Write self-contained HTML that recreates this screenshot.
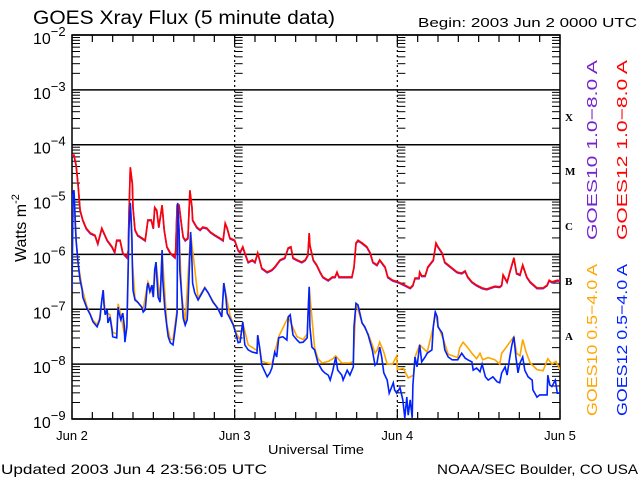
<!DOCTYPE html>
<html><head><meta charset="utf-8"><style>
html,body{margin:0;padding:0;background:#fff;}
svg{display:block;font-family:"Liberation Sans",sans-serif;}
</style></head><body>
<svg id="chart" width="640" height="480" viewBox="0 0 640 480">
<g id="axes"></g>
<g id="series" clip-path="url(#clip)"></g>
<defs><clipPath id="clip"><rect x="72" y="35" width="488" height="384"/></clipPath></defs>
<text x="33" y="24" font-size="19" textLength="302" lengthAdjust="spacingAndGlyphs">GOES Xray Flux (5 minute data)</text>
<text x="418" y="27" font-size="13" textLength="219" lengthAdjust="spacingAndGlyphs">Begin:  2003 Jun 2 0000 UTC</text>
<text transform="translate(26,262) rotate(-90)" font-size="16">Watts m<tspan dy="-7" font-size="11">-2</tspan></text>
<text x="316" y="454" font-size="13" text-anchor="middle" textLength="96" lengthAdjust="spacingAndGlyphs">Universal Time</text>
<text x="1" y="474" font-size="14" textLength="266" lengthAdjust="spacingAndGlyphs">Updated 2003 Jun  4 23:56:05 UTC</text>
<text x="437" y="474" font-size="14" textLength="201" lengthAdjust="spacingAndGlyphs">NOAA/SEC Boulder, CO USA</text>
<g font-family="Liberation Serif,serif" font-weight="bold" font-size="11">
<text x="565" y="121">X</text>
<text x="565" y="175">M</text>
<text x="565" y="230">C</text>
<text x="565" y="285">B</text>
<text x="565" y="340">A</text>
</g>
<g font-size="15">
<text transform="translate(597,240) rotate(-90)" fill="#7722cc" textLength="180" lengthAdjust="spacingAndGlyphs">GOES10 1.0−8.0 A</text>
<text transform="translate(627,240) rotate(-90)" fill="#ff0000" textLength="180" lengthAdjust="spacingAndGlyphs">GOES12 1.0−8.0 A</text>
<text transform="translate(597,416) rotate(-90)" fill="#ffa500" textLength="152" lengthAdjust="spacingAndGlyphs">GOES10 0.5−4.0 A</text>
<text transform="translate(627,416) rotate(-90)" fill="#0022ff" textLength="152" lengthAdjust="spacingAndGlyphs">GOES12 0.5−4.0 A</text>
</g>
</svg>
<script>
const dayLabels=["Jun 2","Jun 3","Jun 4","Jun 5"];
const decades=[-2,-3,-4,-5,-6,-7,-8,-9];
const redHours=[0,0.3,0.6,0.9,1.2,1.6,2.1,2.7,3.4,3.8,4.4,5.2,5.9,6.3,6.6,7.1,7.5,8.1,8.3,8.4,8.6,8.9,9.0,9.3,9.7,10.8,11.2,11.7,12.0,12.2,12.5,12.8,13.3,13.6,14.0,14.5,15.2,15.3,15.5,15.8,16.2,16.4,16.7,17.1,17.4,17.7,17.8,18.4,18.9,19.3,19.9,20.4,21.1,21.8,22.3,22.6,22.9,23.3,24.0,24.5,24.8,25.2,25.5,26.0,26.6,27.0,27.4,27.7,28.0,28.8,29.5,29.9,30.7,31.4,31.9,32.3,32.6,33.2,33.9,34.4,34.8,35.0,35.1,35.6,36.1,36.6,37.0,37.8,38.4,38.8,39.1,39.4,40.3,41.3,41.6,41.9,42.2,42.8,43.5,44.0,44.4,45.0,45.4,46.2,46.6,47.3,48.1,49.1,49.9,50.3,50.6,51.2,51.3,51.6,52.1,52.5,53.3,53.7,54.0,54.6,55.0,55.5,56.1,56.8,57.5,58.0,58.4,59.0,59.7,60.5,61.2,62.4,63.1,63.4,63.6,64.2,64.6,65.2,65.6,66.1,66.5,67.1,67.6,68.6,69.5,70.1,70.4,70.8,71.6,72];
const redLog=[-4.19,-4.19,-4.37,-4.73,-5.19,-5.37,-5.52,-5.61,-5.65,-5.80,-5.52,-5.74,-5.86,-5.96,-5.74,-5.74,-5.97,-6.05,-5.92,-5.32,-4.41,-4.70,-5.14,-5.55,-5.65,-5.74,-5.37,-5.37,-5.52,-5.14,-5.19,-5.50,-5.10,-5.55,-5.86,-5.97,-6.05,-5.92,-5.10,-5.10,-5.50,-5.68,-5.74,-5.70,-4.83,-5.14,-5.37,-5.50,-5.55,-5.50,-5.52,-5.59,-5.65,-5.70,-5.74,-5.43,-5.52,-5.70,-5.74,-5.92,-5.96,-5.86,-5.97,-6.14,-6.10,-6.14,-5.97,-6.10,-6.25,-6.32,-6.28,-6.23,-6.10,-6.06,-5.88,-5.86,-6.06,-6.10,-6.14,-6.10,-6.01,-5.61,-5.83,-6.10,-6.19,-6.32,-6.41,-6.47,-6.41,-6.41,-6.32,-6.41,-6.41,-6.41,-6.23,-5.79,-5.74,-5.79,-5.86,-5.97,-6.14,-6.19,-6.10,-6.23,-6.41,-6.47,-6.50,-6.56,-6.61,-6.56,-6.43,-6.43,-6.32,-6.39,-6.39,-6.23,-6.10,-5.79,-5.86,-5.97,-6.14,-6.19,-6.25,-6.32,-6.34,-6.30,-6.41,-6.50,-6.56,-6.61,-6.63,-6.58,-6.59,-6.56,-6.37,-6.50,-6.32,-6.06,-6.34,-6.37,-6.19,-6.41,-6.50,-6.61,-6.61,-6.56,-6.47,-6.50,-6.47,-6.48];
const blueHours=[0,0.15,0.3,0.6,0.9,1.2,1.5,1.6,2.2,2.7,3.1,3.7,4.1,4.4,4.6,4.7,4.9,5.2,5.3,5.6,5.9,6.0,6.6,6.8,6.9,7.2,7.5,7.7,7.8,8.1,8.3,8.4,8.6,8.7,8.85,8.9,9.0,9.3,9.7,10.3,10.5,10.8,11.1,11.2,11.5,11.8,12.0,12.2,12.4,12.5,12.7,13.0,13.3,13.4,13.7,14.0,14.2,14.5,14.9,15.2,15.5,15.55,15.6,15.8,15.9,16.2,16.4,16.7,17.0,17.1,17.3,17.5,17.7,17.8,18.1,18.6,19.2,19.6,20.1,20.8,21.5,22.1,22.4,22.7,22.9,23.3,23.8,24.3,24.5,24.8,25.2,25.5,26.0,26.6,27.3,27.4,27.7,28.0,28.8,29.2,29.5,29.9,30.2,30.5,31.1,31.7,31.9,32.2,32.5,32.6,33.2,33.6,34.1,34.7,34.8,35.0,35.1,35.4,35.8,36.3,36.9,37.3,37.8,38.1,38.5,38.9,39.2,39.8,40.0,40.6,41.0,41.5,41.6,41.9,42.2,42.8,43.2,43.7,44.3,44.7,45.0,45.4,45.7,46.0,46.5,46.8,47.4,47.6,47.9,48.4,48.8,49.1,49.4,49.6,49.9,50.2,50.3,50.6,50.9,51.3,51.6,52.1,52.4,53.1,53.3,53.6,53.9,54.0,54.6,54.8,55.0,55.5,56.1,56.9,57.5,58.0,58.4,59.0,59.2,59.7,60.2,60.5,61.0,61.4,62.1,62.7,63.1,63.4,63.9,64.2,64.6,64.9,65.2,65.5,65.8,66.1,66.5,66.8,67.3,67.9,68.0,68.6,69.0,70.1,70.2,70.5,70.8,71.3,71.6,72];
const blueLog=[-6.65,-4.88,-4.83,-5.74,-6.16,-6.47,-6.65,-6.78,-6.98,-7.10,-7.23,-7.32,-7.19,-6.83,-6.65,-6.89,-7.10,-7.01,-7.25,-7.14,-7.38,-7.50,-7.52,-6.96,-7.05,-7.19,-7.07,-7.29,-7.60,-7.32,-6.16,-5.55,-5.06,-5.28,-5.74,-6.16,-6.65,-6.83,-6.87,-6.96,-7.05,-7.01,-6.59,-6.52,-6.68,-6.56,-6.78,-6.28,-6.14,-6.37,-6.78,-6.87,-5.92,-6.47,-7.01,-7.32,-7.50,-7.61,-7.65,-7.38,-7.07,-5.97,-5.06,-5.55,-6.28,-6.78,-7.16,-7.29,-7.19,-6.96,-6.28,-5.59,-6.16,-6.52,-6.70,-6.83,-6.70,-6.61,-6.70,-6.87,-6.98,-7.14,-6.52,-6.78,-7.07,-7.16,-7.29,-7.50,-7.61,-7.60,-7.23,-7.65,-7.74,-7.78,-7.80,-7.47,-7.71,-8.02,-8.23,-8.16,-8.07,-7.78,-7.87,-7.52,-7.50,-7.56,-7.14,-7.10,-7.38,-7.47,-7.56,-7.61,-7.60,-7.52,-7.14,-6.59,-7.32,-7.69,-7.74,-7.98,-8.11,-8.16,-8.20,-8.29,-8.11,-7.87,-8.11,-8.20,-8.29,-8.11,-8.20,-8.05,-7.32,-6.89,-6.92,-7.25,-7.32,-7.47,-7.74,-8.02,-7.98,-7.69,-7.87,-8.16,-8.29,-8.53,-8.34,-8.47,-8.53,-8.43,-8.65,-8.98,-8.60,-8.93,-8.65,-8.98,-8.38,-7.87,-8.05,-7.65,-7.96,-7.87,-7.80,-7.74,-7.32,-7.05,-7.14,-7.32,-7.43,-7.56,-7.74,-7.87,-7.92,-7.92,-7.80,-7.89,-7.92,-7.96,-8.11,-8.07,-8.14,-8.00,-8.23,-8.29,-8.23,-8.32,-8.34,-8.16,-8.05,-8.20,-7.87,-7.65,-7.50,-7.87,-8.16,-7.98,-7.87,-8.11,-8.23,-8.29,-8.47,-8.60,-8.56,-8.56,-8.20,-8.38,-8.41,-8.29,-8.53,-8.53];
const orangeHours=[0,0.15,0.6,0.9,1.5,2.2,3.1,3.7,4.1,4.6,4.9,5.6,6.0,6.6,6.8,7.2,7.8,8.1,8.4,8.6,8.9,9.3,10.5,11.2,12.0,12.4,13.0,13.3,14.0,14.5,14.9,15.5,15.6,16.2,16.7,17.5,18.6,19.6,20.8,22.1,22.4,23.3,24.3,24.8,25.2,26.0,27.3,27.4,28.0,28.8,29.5,30.5,31.9,33.2,34.1,34.7,35.0,35.8,36.3,36.9,37.8,38.5,38.9,39.8,41.0,41.5,41.9,42.8,43.7,44.3,44.7,45.0,45.4,46.0,46.5,47.3,47.9,48.0,48.9,49.6,50.4,50.6,51.3,52.4,53.3,53.6,54.0,54.8,55.5,56.9,57.2,57.7,58.4,59.0,59.7,60.2,60.6,61.4,62.4,63.1,63.4,63.9,64.6,65.2,65.6,66.1,66.5,67.0,67.6,68.6,69.5,70.2,70.8,71.4,72];
const orangeLog=[-6.6,-4.9,-5.74,-6.16,-6.62,-6.95,-7.2,-7.28,-7.15,-6.65,-7.05,-7.1,-7.42,-7.45,-6.9,-7.1,-7.5,-7.25,-5.55,-5.06,-6.1,-6.8,-7.0,-6.5,-6.75,-6.14,-6.85,-5.95,-7.28,-7.55,-7.55,-7.0,-5.06,-6.75,-7.25,-5.6,-6.8,-6.6,-6.85,-7.1,-6.52,-7.1,-7.45,-7.55,-7.25,-7.65,-7.75,-7.47,-7.95,-7.98,-8.0,-7.5,-7.14,-7.5,-7.55,-7.45,-6.6,-7.7,-7.9,-7.98,-7.95,-7.9,-7.85,-7.98,-7.98,-7.95,-6.89,-7.25,-7.45,-7.65,-7.8,-7.75,-7.6,-7.78,-8.0,-8.0,-7.85,-8.1,-8.08,-8.25,-8.2,-7.87,-7.65,-7.78,-7.32,-7.05,-7.3,-7.55,-7.82,-7.88,-7.7,-7.6,-7.7,-7.8,-7.9,-7.8,-7.92,-7.88,-7.92,-8.0,-7.8,-7.72,-7.6,-7.5,-7.8,-7.85,-7.55,-7.78,-7.98,-8.1,-8.12,-7.9,-8.0,-7.95,-8.1];

const NS="http://www.w3.org/2000/svg";
const X0=72,X1=560,Y0=35,Y1=419;
function xs(h){return X0+h/72*(X1-X0);}
function ys(l){return Y0+(-2-l)/7*(Y1-Y0);}
function mk(tag,attrs,parent){const e=document.createElementNS(NS,tag);for(const k in attrs)e.setAttribute(k,attrs[k]);parent.appendChild(e);return e;}
const axes=document.getElementById('axes');
const series=document.getElementById('series');
const frame=mk('rect',{x:X0,y:Y0,width:X1-X0,height:Y1-Y0,fill:'none',stroke:'#000','stroke-width':1.5},axes);


decades.forEach(d=>{
  const y=ys(d);
  const g=mk('line',{x1:X0,x2:X1,y1:y,y2:y,stroke:'#000','stroke-width':1.5},axes);
  
  
  const t=mk('text',{x:33,y:y+9,'font-size':16},axes);
  
  
  t.textContent='10';
  const s=mk('tspan',{dy:-8,'font-size':13},t);
  s.textContent='−'+(-d);
  if(d>-9){
    for(let m=2;m<=9;m++){
      const yy=ys(d-1+Math.log10(m));
      [X0,xs(24),xs(48)].forEach(x0=>{mk('line',{x1:x0,x2:x0+8,y1:yy,y2:yy,stroke:'#000','stroke-width':1},axes);});
      mk('line',{x1:X1-8,x2:X1,y1:yy,y2:yy,stroke:'#000','stroke-width':1},axes);
    }
  }
});
for(let h=0;h<=72;h+=3){
  const x=xs(h);
  const len=(h%24===0)?10:7;
  mk('line',{x1:x,x2:x,y1:Y1,y2:Y1-len,stroke:'#000','stroke-width':1.2},axes);
  mk('line',{x1:x,x2:x,y1:Y0,y2:Y0+len,stroke:'#000','stroke-width':1.2},axes);
}
[24,48].forEach(h=>{
  const v=mk('line',{x1:xs(h),x2:xs(h),y1:Y0,y2:Y1,stroke:'#000','stroke-width':1.2,'stroke-dasharray':'2,3'},axes);
  
  
});
dayLabels.forEach((lab,i)=>{
  const t=mk('text',{x:xs(i*24),y:440,'font-size':13,'text-anchor':'middle'},axes);
  
  
  t.textContent=lab;
});
function line(hs,ls,color,name,dy){
  const pts=hs.map((h,i)=>xs(h).toFixed(1)+','+(ys(ls[i])+dy).toFixed(1)).join(' ');
  const p=mk('polyline',{points:pts,fill:'none',stroke:color,'stroke-width':1.6,'stroke-linejoin':'miter'},series);
  
  
}
line(redHours,redLog,'#7722cc','goes10-long-line',0.8);
line(redHours,redLog,'#ff0000','goes12-long-line',0);
line(orangeHours,orangeLog,'#ffa500','goes10-short-line',0);
line(blueHours,blueLog,'#0022ff','goes12-short-line',0);
</script>
</body></html>
